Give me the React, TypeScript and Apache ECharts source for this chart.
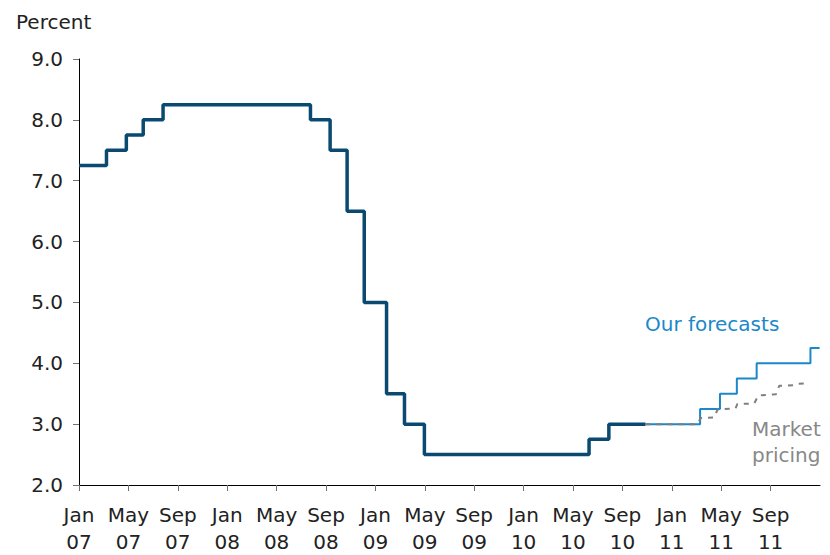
import React, { useEffect, useRef } from "react";
import * as echarts from "echarts";

// Official cash rate (actual)
const ocrDates = [
  "2007-01-01", "2007-03-08", "2007-04-26", "2007-06-07", "2007-07-26",
  "2008-07-24", "2008-09-11", "2008-10-23", "2008-12-04", "2009-01-29",
  "2009-03-12", "2009-04-30", "2010-06-10", "2010-07-29", "2010-10-28",
];
const ocrValues = [7.25, 7.5, 7.75, 8.0, 8.25, 8.0, 7.5, 6.5, 5.0, 3.5, 3.0, 2.5, 2.75, 3.0, 3.0];

// Our forecasts
const forecastDates = ["2010-10-28", "2011-03-10", "2011-04-28", "2011-06-09", "2011-07-28", "2011-12-08", "2011-12-31"];
const forecastValues = [3.0, 3.25, 3.5, 3.75, 4.0, 4.25, 4.25];

// Market pricing
const marketDates = [
  "2010-10-28", "2011-03-03", "2011-03-12", "2011-04-14", "2011-04-22", "2011-06-06",
  "2011-06-10", "2011-07-22", "2011-08-01", "2011-09-14", "2011-09-22", "2011-10-28",
  "2011-11-05", "2011-11-25",
];
const marketValues = [3.0, 3.0, 3.1, 3.11, 3.24, 3.26, 3.33, 3.34, 3.47, 3.49, 3.63, 3.64, 3.66, 3.67];

// X tick labels
const tickDates = [
  "2007-01-01", "2007-05-01", "2007-09-01", "2008-01-01", "2008-05-01", "2008-09-01",
  "2009-01-01", "2009-05-01", "2009-09-01", "2010-01-01", "2010-05-01", "2010-09-01",
  "2011-01-01", "2011-05-01", "2011-09-01",
];
const tickLabels = [
  "Jan\n07", "May\n07", "Sep\n07", "Jan\n08", "May\n08", "Sep\n08",
  "Jan\n09", "May\n09", "Sep\n09", "Jan\n10", "May\n10", "Sep\n10",
  "Jan\n11", "May\n11", "Sep\n11",
];
const axisStart = "2007-01-01";
const axisEnd = "2012-01-01";

const yTicks = [2, 3, 4, 5, 6, 7, 8, 9];

const FONT = "DejaVu Sans";

// date string -> months since Jan 2007 (fractional)
const toM = (s: string) => {
  const [y, m, d] = s.split("-").map(Number);
  const dim = new Date(y, m, 0).getDate();
  return (y - 2007) * 12 + (m - 1) + (d - 1) / dim;
};

export default function App() {
  const ref = useRef<HTMLDivElement>(null);
  useEffect(() => {
    document.body.style.margin = "0";
    const chart = echarts.init(ref.current!, null, { renderer: "svg" });
    const tickM = tickDates.map(toM);
    chart.setOption({
      animation: false,
      backgroundColor: "#ffffff",
      textStyle: { fontFamily: FONT },
      title: {
        text: "Percent",
        left: 11,
        top: 7,
        textStyle: { fontFamily: FONT, fontSize: 20, fontWeight: "normal", color: "#222222" },
      },
      grid: { left: 79, top: 59, width: 741, height: 426, containLabel: false, outerBoundsMode: "none" },
      xAxis: {
        type: "value",
        min: toM(axisStart),
        max: toM(axisEnd),
        interval: 4,
        axisLine: { show: true, lineStyle: { color: "#000000", width: 1 } },
        axisTick: { show: true, length: 6, lineStyle: { color: "#707070" }, customValues: tickM },
        splitLine: { show: false },
        axisLabel: {
          customValues: tickM,
          margin: 16,
          fontFamily: FONT,
          fontSize: 20,
          lineHeight: 27,
          color: "#222222",
          align: "center",
          formatter: (v: number) => {
            const i = tickM.findIndex((t) => Math.abs(t - v) < 1e-6);
            return i >= 0 ? tickLabels[i] : "";
          },
        },
      },
      yAxis: {
        type: "value",
        min: yTicks[0],
        max: yTicks[yTicks.length - 1],
        interval: 1,
        axisLine: { show: true, lineStyle: { color: "#000000", width: 1 } },
        axisTick: { show: true, length: 6, lineStyle: { color: "#707070" } },
        splitLine: { show: false },
        axisLabel: {
          margin: 16,
          fontFamily: FONT,
          fontSize: 20,
          color: "#222222",
          formatter: (v: number) => v.toFixed(1),
        },
      },
      series: [
        {
          name: "OCR",
          type: "line",
          step: "end",
          showSymbol: false,
          data: ocrDates.map((d, i) => [toM(d), ocrValues[i]]),
          lineStyle: { color: "#0b4a70", width: 3.5 },
          z: 3,
        },
        {
          name: "Our forecasts",
          type: "line",
          step: "end",
          showSymbol: false,
          data: forecastDates.map((d, i) => [toM(d), forecastValues[i]]),
          lineStyle: { color: "#1a88c9", width: 2 },
          z: 2,
        },
        {
          name: "Market pricing",
          type: "line",
          showSymbol: false,
          data: marketDates.map((d, i) => [toM(d), marketValues[i]]),
          lineStyle: { color: "#7f7f7f", width: 2, type: [5, 6] },
          z: 4,
        },
      ],
      graphic: [
        {
          type: "text",
          left: 645,
          top: 314,
          style: { text: "Our forecasts", fill: "#1a88c9", font: `20px '${FONT}'` },
        },
        {
          type: "text",
          left: 752,
          top: 416,
          style: { text: "Market\npricing", fill: "#888888", font: `20px '${FONT}'`, lineHeight: 26 },
        },
      ],
    });
    return () => chart.dispose();
  }, []);
  return <div ref={ref} style={{ width: 830, height: 555 }} />;
}
